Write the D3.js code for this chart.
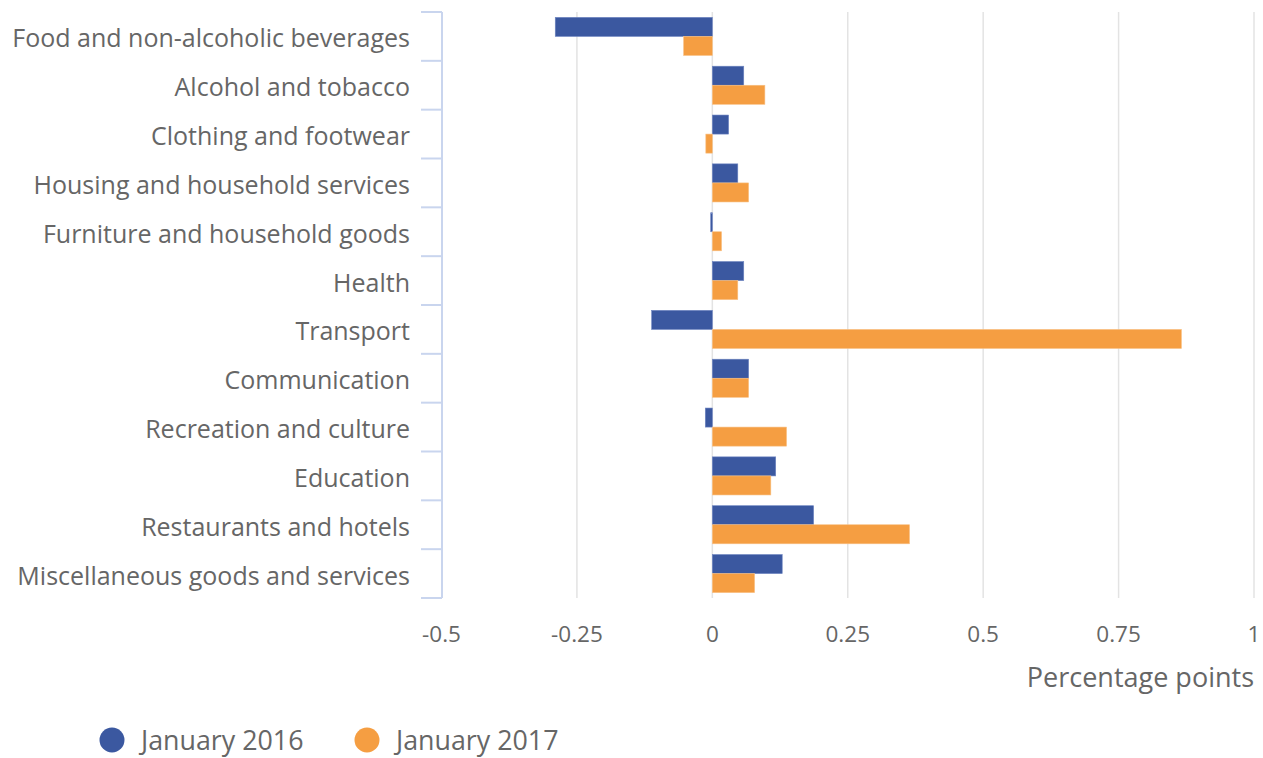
<!DOCTYPE html>
<html><head><meta charset="utf-8">
<script src="https://cdn.jsdelivr.net/npm/d3@7"></script>
<style>body{margin:0;background:#fff;font-family:"Open Sans",sans-serif;}</style>
</head><body><svg id="c" width="1263" height="758"></svg>
<script>
const categories = ["Food and non-alcoholic beverages","Alcohol and tobacco","Clothing and footwear","Housing and household services","Furniture and household goods","Health","Transport","Communication","Recreation and culture","Education","Restaurants and hotels","Miscellaneous goods and services"];
const jan2016 = [-0.29,0.058,0.03,0.047,-0.003,0.058,-0.112,0.067,-0.013,0.117,0.187,0.129];
const jan2017 = [-0.053,0.097,-0.012,0.067,0.017,0.047,0.866,0.067,0.137,0.108,0.364,0.078];
const seriesNames = ["January 2016","January 2017"];
const colors = ["#3b58a0","#f59e42"];
const xTicks = [-0.5,-0.25,0,0.25,0.5,0.75,1];

const svg = d3.select("#c");
const x = d3.scaleLinear().domain([-0.5,1]).range([441.5,1254]);
const y = d3.scaleBand().domain(categories).range([12,598]).paddingInner(0.22).paddingOuter(0.11);
const sub = d3.scaleBand().domain([0,1]).range([0,y.bandwidth()]);

// gridlines
svg.append("g").selectAll("line").data(xTicks.slice(1)).join("line")
  .attr("x1",d=>x(d)).attr("x2",d=>x(d)).attr("y1",12).attr("y2",598)
  .attr("stroke","#e3e3e3").attr("stroke-width",1.5);

// bars
const series = [jan2016, jan2017];
series.forEach((vals,si)=>{
  svg.append("g").selectAll("rect").data(vals).join("rect")
    .attr("x",d=>x(Math.min(0,d)))
    .attr("width",d=>Math.abs(x(d)-x(0)))
    .attr("y",(d,i)=>y(categories[i])+sub(si))
    .attr("height",sub.bandwidth())
    .attr("fill",colors[si])
    .attr("stroke", si===0?"#6d84c0":"#f8c084").attr("stroke-width",0.6);
});

// left axis
const step = (598-12)/categories.length;
const axisG = svg.append("g");
axisG.append("line").attr("x1",442).attr("x2",442).attr("y1",12).attr("y2",598).attr("stroke","#c9d5ee").attr("stroke-width",2);
axisG.selectAll("line.t").data(d3.range(categories.length+1)).join("line").attr("class","t")
  .attr("x1",421).attr("x2",442).attr("y1",i=>12+i*step).attr("y2",i=>12+i*step)
  .attr("stroke","#c9d5ee").attr("stroke-width",2);

svg.append("g").selectAll("text").data(categories).join("text")
  .attr("x",410).attr("y",d=>y(d)+y.bandwidth()/2+2).attr("dy","0.36em")
  .attr("text-anchor","end").attr("fill","#666").attr("font-size",25).text(d=>d);

// x tick labels
svg.append("g").selectAll("text").data(xTicks).join("text")
  .attr("x",d=>x(d)).attr("y",642).attr("text-anchor","middle")
  .attr("fill","#666").attr("font-size",22.5).text(d=>String(d));

svg.append("text").attr("x",1254).attr("y",687).attr("text-anchor","end")
  .attr("fill","#666").attr("font-size",27).text("Percentage points");

// legend
const leg = svg.append("g");
const legX = [112, 367];
seriesNames.forEach((n,i)=>{
  leg.append("circle").attr("cx",legX[i]).attr("cy",740).attr("r",12.5).attr("fill",colors[i]);
  leg.append("text").attr("x",legX[i]+29).attr("y",741).attr("dy","0.35em")
    .attr("fill","#666").attr("font-size",26.8).text(n);
});
</script></body></html>
